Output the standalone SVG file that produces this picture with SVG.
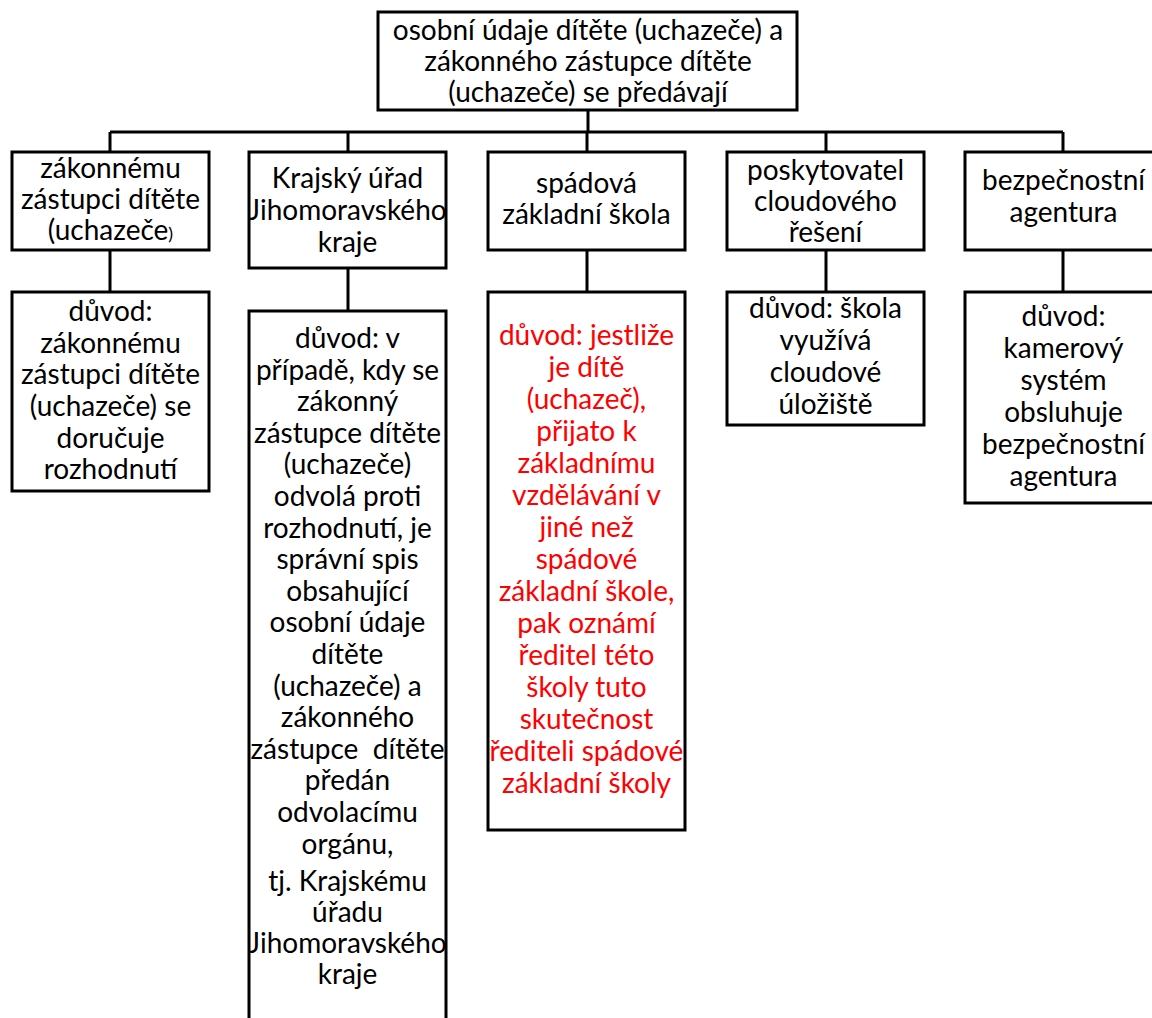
<svg xmlns="http://www.w3.org/2000/svg" width="1152" height="1018" viewBox="0 0 1152 1018">
<style>
.box{fill:#fff;stroke:#000;stroke-width:3}
.con{fill:none;stroke:#000;stroke-width:3}
text{font-family:Lato,"Open Sans","Liberation Sans",sans-serif;font-size:28px;fill:#000;text-anchor:middle}
text.red{fill:#ff0000}
</style>
<rect width="1152" height="1018" fill="#fff"/>
<g id="connectors">
<path class="con" d="M588 110V132M110 132H1063M110 132V152M348 132V152M587 132V152M826 132V152M1063 132V152"/>
<path class="con" d="M110 250V292M348 268V311M587 250V292M826 250V292M1063 250V292"/>
</g>
<g id="root">
<rect class="box" x="378" y="12" width="419" height="98"/>
<text x="588" y="40">osobní údaje dítěte (uchazeče) a</text>
<text x="588" y="71">zákonného zástupce dítěte</text>
<text x="588" y="102">(uchazeče) se předávají</text>
</g>
<g id="n1">
<rect class="box" x="12" y="152" width="197" height="98"/>
<text x="110.5" y="178">zákonnému</text>
<text x="110.5" y="209">zástupci dítěte</text>
<text x="110.5" y="240">(uchazeče<tspan font-size="18">)</tspan></text>
</g>
<g id="n2">
<rect class="box" x="249" y="152" width="197" height="116"/>
<text x="347.5" y="188">Krajský úřad</text>
<text x="347.5" y="220">Jihomoravského</text>
<text x="347.5" y="252">kraje</text>
</g>
<g id="n3">
<rect class="box" x="488" y="152" width="197" height="98"/>
<text x="586.5" y="193">spádová</text>
<text x="586.5" y="224">základní škola</text>
</g>
<g id="n4">
<rect class="box" x="727" y="152" width="197" height="98"/>
<text x="825.5" y="180">poskytovatel</text>
<text x="825.5" y="211">cloudového</text>
<text x="825.5" y="242">řešení</text>
</g>
<g id="n5">
<rect class="box" x="965" y="152" width="197" height="98"/>
<text x="1063.5" y="190">bezpečnostní</text>
<text x="1063.5" y="222">agentura</text>
</g>
<g id="n1b">
<rect class="box" x="12" y="292" width="197" height="199"/>
<text x="110.5" y="321">důvod:</text>
<text x="110.5" y="353">zákonnému</text>
<text x="110.5" y="384">zástupci dítěte</text>
<text x="110.5" y="416">(uchazeče) se</text>
<text x="110.5" y="448">doručuje</text>
<text x="110.5" y="479">rozhodnutí</text>
</g>
<g id="n2b">
<rect class="box" x="249" y="311" width="197" height="730"/>
<text x="347.5" y="348">důvod: v</text>
<text x="347.5" y="380">případě, kdy se</text>
<text x="347.5" y="411">zákonný</text>
<text x="347.5" y="443">zástupce dítěte</text>
<text x="347.5" y="474">(uchazeče)</text>
<text x="347.5" y="506">odvolá proti</text>
<text x="347.5" y="538">rozhodnutí, je</text>
<text x="347.5" y="569">správní spis</text>
<text x="347.5" y="601">obsahující</text>
<text x="347.5" y="632">osobní údaje</text>
<text x="347.5" y="664">dítěte</text>
<text x="347.5" y="696">(uchazeče) a</text>
<text x="347.5" y="727">zákonného</text>
<text x="347.5" y="759" xml:space="preserve">zástupce  dítěte</text>
<text x="347.5" y="790">předán</text>
<text x="347.5" y="822">odvolacímu</text>
<text x="347.5" y="854">orgánu,</text>
<text x="347.5" y="891">tj. Krajskému</text>
<text x="347.5" y="922">úřadu</text>
<text x="347.5" y="953">Jihomoravského</text>
<text x="347.5" y="984">kraje</text>
</g>
<g id="n3b">
<rect class="box" x="488" y="292" width="197" height="538"/>
<text class="red" x="586.5" y="345">důvod: jestliže</text>
<text class="red" x="586.5" y="377">je dítě</text>
<text class="red" x="586.5" y="409">(uchazeč),</text>
<text class="red" x="586.5" y="441">přijato k</text>
<text class="red" x="586.5" y="473">základnímu</text>
<text class="red" x="586.5" y="505">vzdělávání v</text>
<text class="red" x="586.5" y="537">jiné než</text>
<text class="red" x="586.5" y="569">spádové</text>
<text class="red" x="586.5" y="601">základní škole,</text>
<text class="red" x="586.5" y="633">pak oznámí</text>
<text class="red" x="586.5" y="665">ředitel této</text>
<text class="red" x="586.5" y="697">školy tuto</text>
<text class="red" x="586.5" y="729">skutečnost</text>
<text class="red" x="586.5" y="761">řediteli spádové</text>
<text class="red" x="586.5" y="793">základní školy</text>
</g>
<g id="n4b">
<rect class="box" x="727" y="292" width="197" height="133"/>
<text x="825.5" y="318">důvod: škola</text>
<text x="825.5" y="350">využívá</text>
<text x="825.5" y="382">cloudové</text>
<text x="825.5" y="414">úložiště</text>
</g>
<g id="n5b">
<rect class="box" x="965" y="292" width="197" height="211"/>
<text x="1063.5" y="326">důvod:</text>
<text x="1063.5" y="358">kamerový</text>
<text x="1063.5" y="390">systém</text>
<text x="1063.5" y="422">obsluhuje</text>
<text x="1063.5" y="454">bezpečnostní</text>
<text x="1063.5" y="486">agentura</text>
</g>
</svg>
